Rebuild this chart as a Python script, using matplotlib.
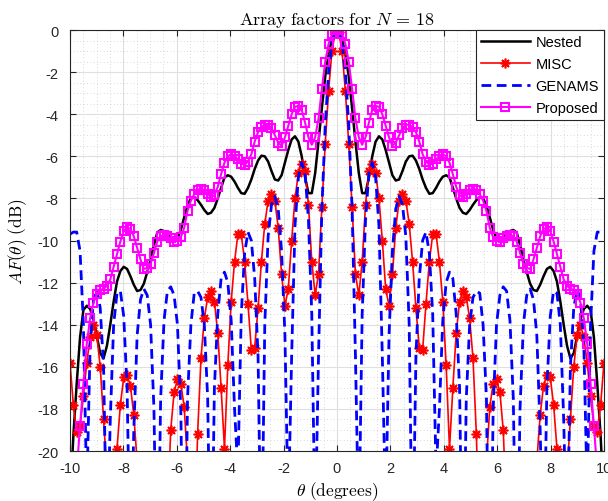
import numpy as np
import matplotlib
matplotlib.use("Agg")
import matplotlib.pyplot as plt
from matplotlib.ticker import MultipleLocator

plt.rcParams['font.family'] = ['Liberation Sans', 'DejaVu Sans']
plt.rcParams['mathtext.fontset'] = 'cm'
plt.rcParams['axes.unicode_minus'] = False

# half of the angle grid (the patterns are symmetric about 0)
theta_half = np.linspace(-10, 10, 160)[80:]

# Nested array (dB), theta >= 0
nested_half = [-0.05, -0.42, -1.15, -2.2, -3.7, -5.3, -6.8, -7.75, -7.75, -7.0,
               -6.0, -5.3, -5.05, -5.2, -5.7, -6.3, -6.9, -7.15, -7.1, -6.7,
               -6.25, -6.0, -5.97, -6.2, -6.6, -7.1, -7.5, -7.78, -7.75, -7.5,
               -7.2, -6.97, -6.9, -7.0, -7.5, -8.0, -8.45, -8.68, -8.74, -8.55,
               -8.3, -8.08, -7.97, -7.98, -8.35, -8.9, -9.5, -9.9, -10.0, -9.87,
               -9.68, -9.55, -9.5, -9.62, -10.2, -10.9, -11.5, -12.05, -12.35, -12.4,
               -12.1, -11.7, -11.35, -11.25, -11.45, -11.95, -12.9, -14.0, -15.0, -15.6,
               -15.35, -14.55, -13.75, -13.25, -13.1, -13.3, -14.6, -16.8, -19.3, -22.5]

# MISC array
misc_half = [-0.1, -1.0, -2.9, -5.4, -8.4, -11.6, -12.6, -11.0, -8.3, -6.7,
             -6.35, -6.8, -8.0, -10.0, -12.3, -13.1, -11.6, -9.4, -8.1, -7.8,
             -8.1, -9.2, -11.0, -13.2, -15.1, -15.2, -13.0, -11.0, -9.7, -9.7,
             -11.0, -12.9, -15.9, -19.9, -17.0, -14.4, -12.9, -12.4, -12.7, -13.7,
             -15.6, -19.2, -25.0, -24.0, -20.5, -17.9, -16.8, -16.6, -17.2, -19.0,
             -23.0, -28.0, -24.0, -22.5, -23.0, -26.0, -30.0, -25.0, -23.5, -20.5,
             -18.3, -16.9, -16.4, -16.5, -17.8, -19.9, -24.0, -27.0, -21.0, -18.5,
             -16.0, -14.5, -14.0, -14.6, -15.8, -17.4, -18.8, -19.1, -17.8, -15.8]

# GENAMS array
genams_half = [-0.05, -0.6, -2.0, -4.5, -8.5, -15.5, -24.0, -13.5, -9.0, -6.8,
               -6.3, -7.0, -9.3, -15.5, -23.0, -14.5, -10.5, -8.5, -7.9, -8.3,
               -9.8, -14.0, -26.0, -15.5, -11.8, -10.0, -9.6, -10.6, -13.5, -21.0,
               -18.0, -13.8, -12.0, -11.5, -11.8, -13.5, -17.0, -28.0, -17.5, -14.0,
               -12.7, -12.4, -12.5, -14.0, -17.5, -30.0, -18.0, -14.0, -12.6, -12.2,
               -12.4, -13.8, -17.5, -28.0, -18.0, -14.0, -12.6, -12.3, -12.8, -14.5,
               -19.0, -26.0, -17.0, -13.6, -12.4, -12.5, -14.0, -18.5, -25.0, -16.0,
               -13.2, -12.3, -12.8, -15.0, -22.0, -14.0, -10.5, -9.6, -9.6, -9.7]

# Proposed array
proposed_half = [-0.02, -0.2, -0.65, -1.5, -2.8, -4.2, -5.1, -5.45, -5.1, -4.4,
                 -3.8, -3.6, -3.65, -4.0, -4.55, -5.1, -5.5, -5.35, -5.0, -4.65,
                 -4.5, -4.5, -4.6, -4.85, -5.3, -5.9, -6.25, -6.4, -6.35, -6.15,
                 -5.97, -5.9, -6.0, -6.3, -6.85, -7.45, -7.85, -7.95, -7.8, -7.6,
                 -7.55, -7.58, -7.8, -8.1, -8.6, -9.4, -9.85, -10.0, -10.05, -9.9,
                 -9.8, -9.72, -9.8, -10.05, -10.6, -11.1, -11.3, -11.35, -10.9, -10.35,
                 -9.8, -9.45, -9.37, -9.55, -10.05, -10.65, -11.25, -11.85, -12.15, -12.3,
                 -12.35, -12.55, -12.95, -13.7, -14.9, -16.8, -18.8, -21.0, -24.0, -27.0]


def full(half):
    h = np.asarray(half)
    return np.concatenate([h[::-1], h])


theta = np.concatenate([-theta_half[::-1], theta_half])

fig = plt.figure(figsize=(6.08, 5.02), dpi=100)
ax = fig.add_axes([0.1151, 0.0996, 0.8783, 0.8386])

ax.plot(theta, full(nested_half), color='k', lw=1.8, label='Nested')
ax.plot(theta, full(misc_half), color='r', lw=1.2, marker=(8, 2, 0), ms=7,
        mew=1.2, label='MISC')
ax.plot(theta, full(genams_half), color='b', lw=2.0, ls=(0, (3.5, 2)),
        label='GENAMS')
ax.plot(theta, full(proposed_half), color='#ff00ff', lw=1.5, marker='s', ms=6,
        mfc='none', mew=1.5, label='Proposed')

ax.set_xlim(-10, 10)
ax.set_ylim(-20, 0)
ax.xaxis.set_major_locator(MultipleLocator(2))
ax.yaxis.set_major_locator(MultipleLocator(2))
ax.xaxis.set_minor_locator(MultipleLocator(0.5))
ax.yaxis.set_minor_locator(MultipleLocator(0.5))
ax.tick_params(which='both', direction='in', top=True, right=True,
               labelsize=10.5, color='#262626', labelcolor='#262626')
ax.tick_params(which='major', length=4)
ax.tick_params(axis='x', which='major', pad=7)
ax.tick_params(axis='y', which='major', pad=8)
ax.tick_params(which='minor', length=0)
ax.grid(which='major', color='#dfdfdf', lw=0.8, ls='-')
ax.grid(which='minor', color='#cccccc', lw=0.6, ls=(0, (1, 3)))
ax.set_axisbelow(True)
for s in ax.spines.values():
    s.set_color('#262626')
    s.set_linewidth(0.8)

ax.set_title(r'$\mathrm{Array\ factors\ for\ }N\,=\,18$', fontsize=13, pad=4)
ax.set_xlabel(r'$\theta\ \mathrm{(degrees)}$', fontsize=12.5, labelpad=3)
ax.set_ylabel(r'$AF(\theta)\ \mathrm{(dB)}$', fontsize=12.5, labelpad=6)

leg = ax.legend(loc='upper right', fontsize=10.5, frameon=True, fancybox=False,
                borderaxespad=0.0, handlelength=3.3, borderpad=0.35,
                labelspacing=0.55, handletextpad=0.4)
leg.get_frame().set_edgecolor('#262626')
leg.get_frame().set_linewidth(0.8)
leg.get_frame().set_alpha(1)

fig.savefig('out.png', dpi=100)
